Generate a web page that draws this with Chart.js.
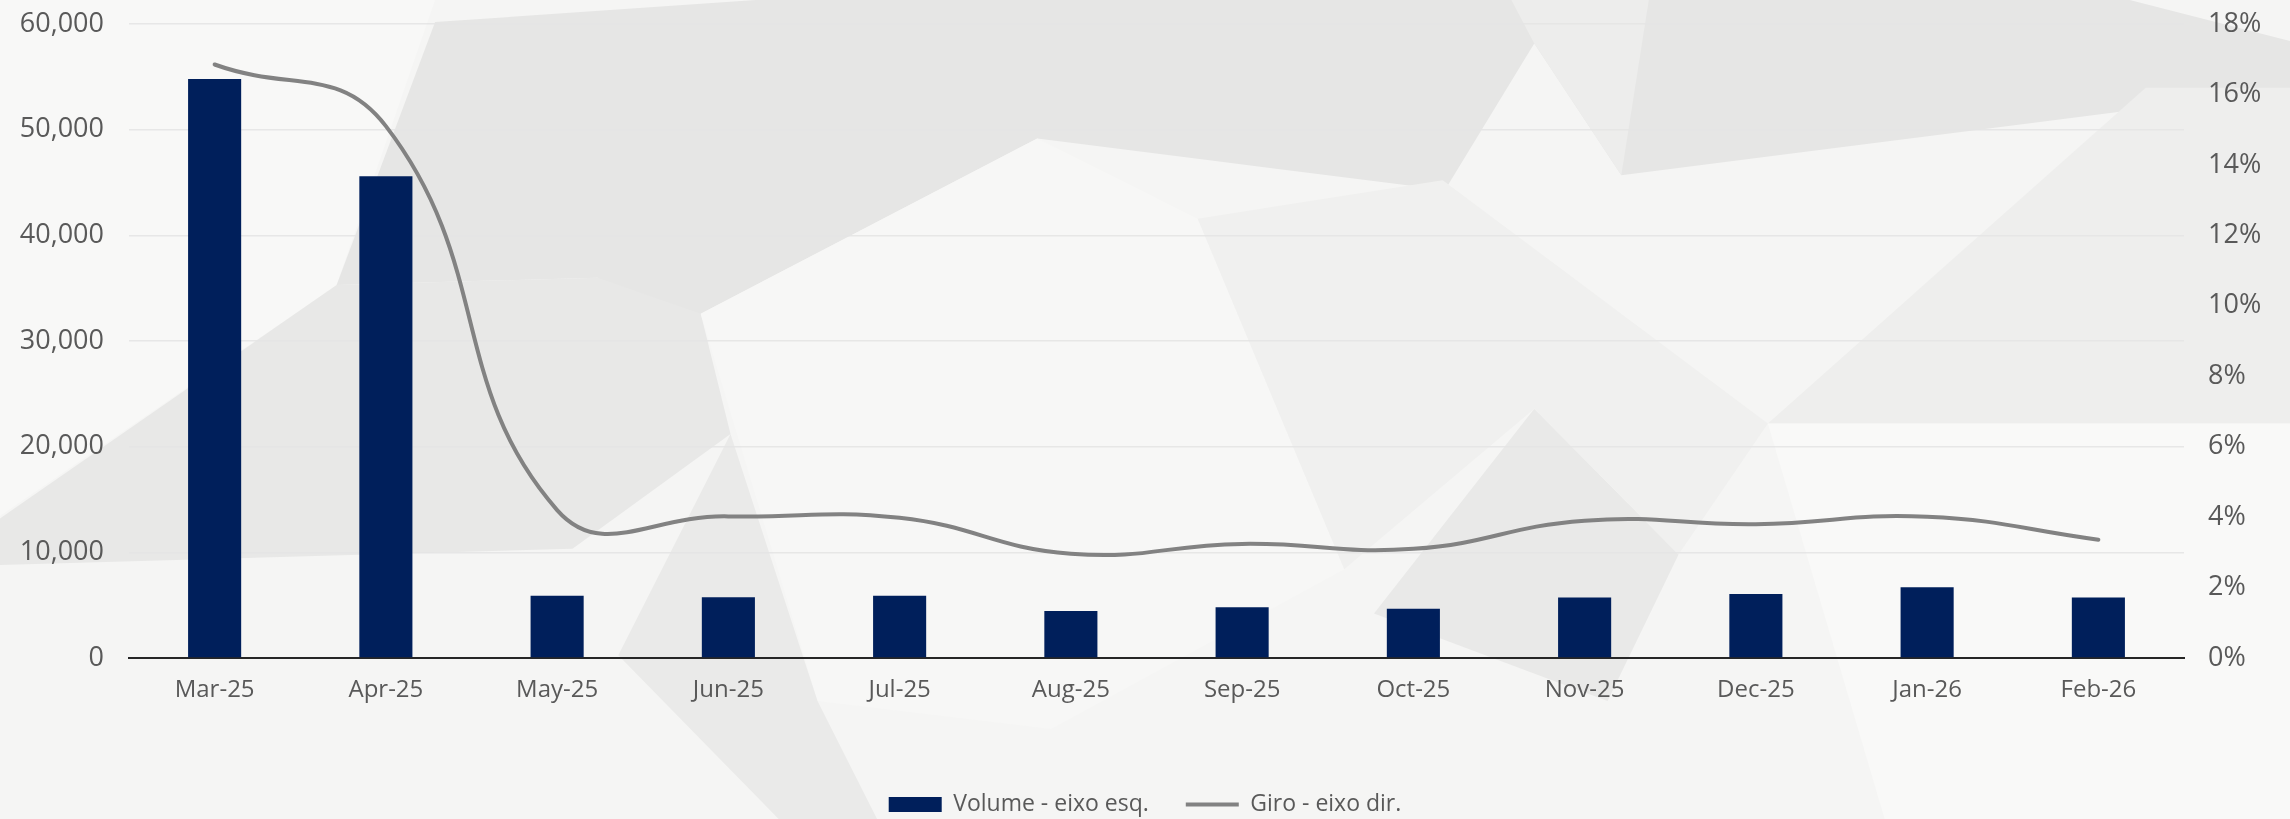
<!DOCTYPE html>
<html>
<head>
<meta charset="utf-8">
<script src="https://cdn.jsdelivr.net/npm/chart.js@4.4.1/dist/chart.umd.min.js"></script>
<style>
  html, body { margin: 0; padding: 0; }
  body { width: 2290px; height: 819px; overflow: hidden; background: #f3f3f2; position: relative; }
  .bg { position: absolute; left: 0; top: 0; width: 2290px; height: 819px; }
  #wrap { position: absolute; left: 0; top: 0; width: 2290px; height: 819px; }
</style>
</head>
<body>
<div class="bg" style="background:#f5f5f4"></div>
<div class="bg" style="background:#f8f8f7;clip-path:polygon(0% 0%,19% 0%,14.7% 34.8%,0% 63%)"></div>
<div class="bg" style="background:#e6e6e5;clip-path:polygon(33% 0%,93% 0%,100% 5%,100% 11%,70.8% 21.4%,67% 5.3%,63.1% 23.2%,52.9% 19.6%,45.3% 16.9%,30.6% 38.3%,26.8% 42.8%,26.1% 33.9%,14.7% 34.8%,19% 2.7%)"></div>
<div class="bg" style="background:#ededec;clip-path:polygon(66% 0%,72% 0%,70.8% 21.4%,67% 5.3%)"></div>
<div class="bg" style="background:#e8e8e7;clip-path:polygon(0% 63.3%,14.7% 34.8%,26.1% 33.9%,30.6% 38.3%,31.9% 53%,25% 67%,0% 69%)"></div>
<div class="bg" style="background:#f7f7f6;clip-path:polygon(30.6% 38.3%,45.3% 16.9%,52.3% 26.7%,58.7% 69.5%,45.9% 89%,35.7% 85.6%)"></div>
<div class="bg" style="background:#eaeae9;clip-path:polygon(31.9% 53%,35.7% 85.6%,38.3% 100%,34% 100%,27% 80%)"></div>
<div class="bg" style="background:#e9e9e8;clip-path:polygon(67% 49.9%,73.3% 67.7%,70.2% 85.6%,60% 74.9%)"></div>
<div class="bg" style="background:#eeeeed;clip-path:polygon(77.2% 51.7%,93.7% 10.7%,100% 10.7%,100% 51.7%)"></div>
<div class="bg" style="background:#f9f9f8;clip-path:polygon(77.2% 51.7%,100% 51.7%,100% 100%,82.3% 100%)"></div>
<div class="bg" style="background:#f0f0ef;clip-path:polygon(52.3% 26.7%,63% 22%,77.2% 51.7%,73.3% 67.7%,67% 49.9%,58.7% 69.5%)"></div>
<div id="wrap"><canvas id="c" width="2290" height="819"></canvas></div>
<script>
const categories = ["Mar-25","Apr-25","May-25","Jun-25","Jul-25","Aug-25","Sep-25","Oct-25","Nov-25","Dec-25","Jan-26","Feb-26"];
const volumeValues = [54800, 45600, 5900, 5750, 5900, 4450, 4800, 4650, 5720, 6050, 6700, 5720];
const giroValues = [16.85, 15.1, 4.2, 4.02, 3.98, 2.96, 3.24, 3.1, 3.9, 3.8, 4.01, 3.36];
const leftTicks = [0, 10000, 20000, 30000, 40000, 50000, 60000];
const rightTicks = [0, 2, 4, 6, 8, 10, 12, 14, 16, 18];
const seriesNames = ["Volume - eixo esq.", "Giro - eixo dir."];

const TICK_COLOR = "#595959";
const AXIS_FONT = "'Open Sans', Lato, sans-serif";
const LEGEND_FONT = "'Open Sans', sans-serif";

function fixVertical(width) {
  return (s) => { s.width = width; s.paddingTop = 0; s.paddingBottom = 0; };
}

new Chart(document.getElementById("c"), {
  data: {
    labels: categories,
    datasets: [
      {
        type: "bar",
        label: seriesNames[0],
        data: volumeValues,
        backgroundColor: "#001f5b",
        borderWidth: 0,
        yAxisID: "y",
        order: 2,
        categoryPercentage: 1.0,
        barPercentage: 0.31,
        pointStyle: "rect"
      },
      {
        type: "line",
        label: seriesNames[1],
        data: giroValues,
        borderColor: "#828282",
        backgroundColor: "#828282",
        borderWidth: 4,
        pointRadius: 0,
        pointHoverRadius: 0,
        pointStyle: "line",
        tension: 0.45,
        fill: false,
        yAxisID: "y1",
        order: 1,
        borderCapStyle: "round"
      }
    ]
  },
  options: {
    responsive: false,
    animation: false,
    devicePixelRatio: 1,
    layout: { padding: { top: 24, left: 0, right: 0, bottom: -7 } },
    plugins: {
      tooltip: { enabled: false },
      legend: {
        position: "bottom",
        labels: {
          usePointStyle: true,
          pointStyleWidth: 53,
          boxHeight: 15,
          padding: 37,
          color: TICK_COLOR,
          font: { family: LEGEND_FONT, size: 23 },
          sort: (a, b) => a.datasetIndex - b.datasetIndex
        }
      }
    },
    scales: {
      x: {
        grid: { display: false, drawTicks: false },
        border: { display: true, color: "#262626", width: 2 },
        ticks: { color: TICK_COLOR, font: { family: AXIS_FONT, size: 24 }, padding: 18, maxRotation: 0, autoSkip: false },
        afterFit: (s) => { s.height = 98; }
      },
      y: {
        position: "left",
        min: 0, max: 60000,
        afterBuildTicks: (s) => { s.ticks = leftTicks.map(v => ({ value: v })); },
        grid: { color: "rgba(228,228,228,0.9)", lineWidth: 1.5, drawTicks: false },
        border: { display: false },
        ticks: {
          color: TICK_COLOR,
          font: { family: AXIS_FONT, size: 27 },
          padding: 25,
          callback: (v) => Number(v).toLocaleString("en-US")
        },
        afterFit: fixVertical(129)
      },
      y1: {
        position: "right",
        min: 0, max: 18,
        afterBuildTicks: (s) => { s.ticks = rightTicks.map(v => ({ value: v })); },
        grid: { drawOnChartArea: false, drawTicks: false },
        border: { display: false },
        ticks: {
          color: TICK_COLOR,
          font: { family: AXIS_FONT, size: 27 },
          padding: 24,
          callback: (v) => v + "%"
        },
        afterFit: fixVertical(106)
      }
    }
  }
});
</script>
</body>
</html>
